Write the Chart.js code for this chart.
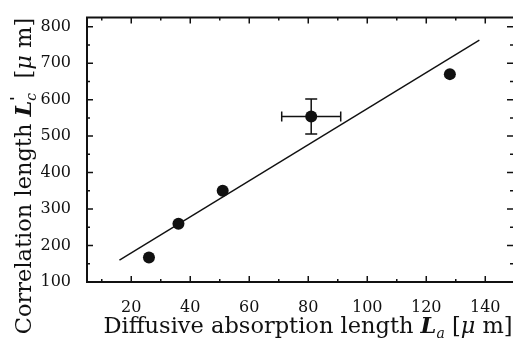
<!DOCTYPE html>
<html>
<head>
<meta charset="utf-8">
<script src="https://cdn.jsdelivr.net/npm/chart.js@4.4.0/dist/chart.umd.min.js"></script>
<style>
  html, body { margin: 0; padding: 0; background: #fff; }
  #wrap { width: 519px; height: 341px; }
</style>
</head>
<body>
<div id="wrap"><canvas id="chart"></canvas></div>
<script>
// measured points (diffusive absorption length vs correlation length)
const absLength = [26, 36, 51, 81, 128];
const corrLength = [167, 260, 350, 554, 670];
const absErr = [0, 0, 0, 10, 0];
const corrErr = [0, 0, 0, 48, 0];

// fitted straight line, end points
const fitAbs = [16, 138];
const fitCorr = [160, 763];

const xTicks = [20, 40, 60, 80, 100, 120, 140];
const yTicks = [100, 200, 300, 400, 500, 600, 700, 800];

const serif = "'DejaVu Serif', serif";
const ink = '#111';
const big = '22.5px ';
const small = '14px ';

function drawRich(ctx, parts, x, y) {
    let cx = x;
    parts.forEach(p => {
        ctx.font = p.font;
        ctx.fillText(p.text, cx, y + (p.dy || 0));
        if (!p.stack) cx += ctx.measureText(p.text).width;
    });
}

function richWidth(ctx, parts) {
    let w = 0;
    parts.forEach(p => {
        ctx.font = p.font;
        if (!p.stack) w += ctx.measureText(p.text).width;
    });
    return w;
}

// frame with inward ticks on every side
const framePlugin = {
    id: 'frame',
    afterDraw(chart) {
        const ctx = chart.ctx;
        const a = chart.chartArea;
        const xs = chart.scales.x, ys = chart.scales.y;
        ctx.save();
        ctx.strokeStyle = ink;
        ctx.lineWidth = 2;
        ctx.beginPath();
        ctx.moveTo(a.right, a.top);
        ctx.lineTo(a.left, a.top);
        ctx.lineTo(a.left, a.bottom);
        ctx.lineTo(a.right, a.bottom);
        ctx.stroke();

        ctx.lineWidth = 1.5;
        const xt = xs.ticks.map(t => t.value);
        const xstep = xt[1] - xt[0];
        for (let v = xt[0] - xstep; v <= xs.max; v += xstep / 2) {
            if (v < xs.min) continue;
            const px = xs.getPixelForValue(v);
            const len = (v % xstep === 0) ? 6 : 3;
            ctx.beginPath();
            ctx.moveTo(px, a.bottom); ctx.lineTo(px, a.bottom - len);
            ctx.moveTo(px, a.top); ctx.lineTo(px, a.top + len);
            ctx.stroke();
        }
        const yt = ys.ticks.map(t => t.value);
        const ystep = yt[1] - yt[0];
        for (let v = yt[0]; v <= ys.max; v += ystep / 2) {
            const py = ys.getPixelForValue(v);
            const len = (v % ystep === 0) ? 6 : 3;
            ctx.beginPath();
            ctx.moveTo(a.left, py); ctx.lineTo(a.left + len, py);
            ctx.moveTo(a.right, py); ctx.lineTo(a.right - len, py);
            ctx.stroke();
        }
        ctx.restore();
    }
};

// error bars for dataset 0
const errorPlugin = {
    id: 'errors',
    afterDatasetsDraw(chart) {
        const ctx = chart.ctx;
        const xs = chart.scales.x, ys = chart.scales.y;
        ctx.save();
        ctx.strokeStyle = ink;
        ctx.lineWidth = 1.5;
        absLength.forEach((a, i) => {
            const c = corrLength[i];
            const py = ys.getPixelForValue(c);
            const px = xs.getPixelForValue(a);
            if (absErr[i] > 0) {
                const x1 = xs.getPixelForValue(a - absErr[i]);
                const x2 = xs.getPixelForValue(a + absErr[i]);
                ctx.beginPath();
                ctx.moveTo(x1, py); ctx.lineTo(x2, py);
                ctx.moveTo(x1, py - 5); ctx.lineTo(x1, py + 5);
                ctx.moveTo(x2, py - 5); ctx.lineTo(x2, py + 5);
                ctx.stroke();
            }
            if (corrErr[i] > 0) {
                const y1 = ys.getPixelForValue(c - corrErr[i]);
                const y2 = ys.getPixelForValue(c + corrErr[i]);
                ctx.beginPath();
                ctx.moveTo(px, y1); ctx.lineTo(px, y2);
                ctx.moveTo(px - 6, y1); ctx.lineTo(px + 6, y1);
                ctx.moveTo(px - 6, y2); ctx.lineTo(px + 6, y2);
                ctx.stroke();
            }
        });
        ctx.restore();
    }
};

// axis titles with italic symbols and subscripts
const titlePlugin = {
    id: 'titles',
    afterDraw(chart) {
        const ctx = chart.ctx;
        ctx.save();
        ctx.fillStyle = ink;
        ctx.textBaseline = 'alphabetic';

        const xParts = [
            { text: 'Diffusive absorption length ', font: big + serif },
            { text: 'L', font: 'italic bold ' + big + serif },
            { text: 'a', font: 'italic ' + small + serif, dy: 5 },
            { text: ' [', font: big + serif },
            { text: 'μ', font: 'italic ' + big + serif },
            { text: ' m]', font: big + serif }
        ];
        const xw = richWidth(ctx, xParts);
        drawRich(ctx, xParts, 308 - xw / 2, 333);

        const yParts = [
            { text: 'Correlation length ', font: big + serif },
            { text: 'L', font: 'italic bold ' + big + serif },
            { text: '\'', font: 'bold ' + small + serif, dy: -10, stack: true },
            { text: 'c', font: 'italic ' + small + serif, dy: 5 },
            { text: '  [', font: big + serif },
            { text: 'μ', font: 'italic ' + big + serif },
            { text: ' m]', font: big + serif }
        ];
        const yw = richWidth(ctx, yParts);
        ctx.translate(31, 176);
        ctx.rotate(-Math.PI / 2);
        drawRich(ctx, yParts, -yw / 2, 0);
        ctx.restore();
    }
};

const ctx = document.getElementById('chart').getContext('2d');
new Chart(ctx, {
    type: 'scatter',
    data: {
        datasets: [
            {
                label: 'measured',
                data: absLength.map((a, i) => ({ x: a, y: corrLength[i] })),
                pointRadius: 6,
                pointBackgroundColor: ink,
                pointBorderColor: ink,
                pointBorderWidth: 0
            },
            {
                label: 'fit',
                data: fitAbs.map((a, i) => ({ x: a, y: fitCorr[i] })),
                showLine: true,
                pointRadius: 0,
                borderColor: ink,
                borderWidth: 1.4
            }
        ]
    },
    options: {
        responsive: true,
        maintainAspectRatio: false,
        animation: false,
        layout: { padding: { top: 10, right: 0, bottom: 0, left: 0 } },
        plugins: {
            legend: { display: false },
            tooltip: { enabled: false }
        },
        scales: {
            x: {
                type: 'linear',
                min: 5,
                max: 149.4,
                grid: { display: false },
                border: { display: false },
                ticks: { font: { family: serif, size: 16 }, color: ink, padding: 8, maxRotation: 0, autoSkip: false },
                afterBuildTicks: s => { s.ticks = xTicks.map(v => ({ value: v })); },
                afterFit: s => { s.height = 59; }
            },
            y: {
                type: 'linear',
                min: 100,
                max: 825,
                grid: { display: false },
                border: { display: false },
                ticks: { font: { family: serif, size: 16 }, color: ink, padding: 8, autoSkip: false },
                afterBuildTicks: s => { s.ticks = yTicks.map(v => ({ value: v })); },
                afterFit: s => { s.width = 87; }
            }
        }
    },
    plugins: [framePlugin, errorPlugin, titlePlugin]
});
</script>
</body>
</html>
